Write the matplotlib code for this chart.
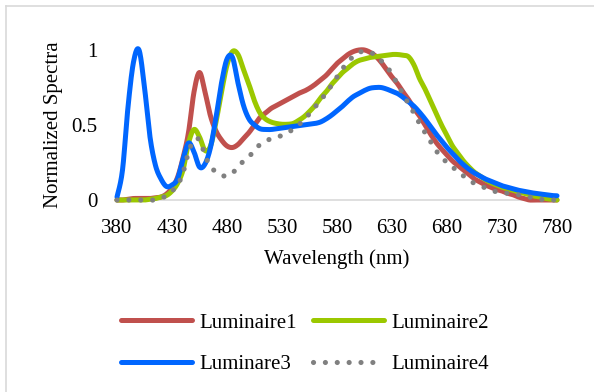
import matplotlib
matplotlib.use("Agg")
import matplotlib.pyplot as plt
from matplotlib.lines import Line2D
import numpy as np

wavelength = list(range(380, 781, 5))

luminaire1 = [0.0, 0.0, 0.005, 0.01, 0.01, 0.01, 0.01, 0.015, 0.02, 0.04,
              0.08, 0.15, 0.28, 0.45, 0.72, 0.85, 0.72, 0.56, 0.46, 0.40,
              0.36, 0.35, 0.37, 0.41, 0.45, 0.50, 0.55, 0.58, 0.61, 0.63,
              0.65, 0.67, 0.69, 0.71, 0.725, 0.745, 0.77, 0.80, 0.83, 0.87,
              0.91, 0.94, 0.97, 0.99, 1.0, 1.0, 0.985, 0.96, 0.92, 0.87,
              0.82, 0.775, 0.72, 0.67, 0.61, 0.56, 0.50, 0.44, 0.385, 0.34,
              0.30, 0.26, 0.23, 0.20, 0.17, 0.14, 0.12, 0.10, 0.085, 0.07,
              0.06, 0.045, 0.035, 0.02, 0.01, 0.0, 0.0, 0.0, 0.0, 0.0, 0.0]

luminaire2 = [0.0, 0.0, 0.0, 0.0, 0.0, 0.0, 0.005, 0.01, 0.02, 0.03,
              0.06, 0.11, 0.20, 0.38, 0.47, 0.42, 0.33, 0.36, 0.52, 0.72,
              0.90, 0.99, 0.97, 0.87, 0.77, 0.66, 0.58, 0.54, 0.52, 0.51,
              0.505, 0.505, 0.51, 0.53, 0.555, 0.59, 0.63, 0.68, 0.72, 0.77,
              0.81, 0.85, 0.88, 0.91, 0.93, 0.94, 0.95, 0.955, 0.96, 0.965,
              0.97, 0.97, 0.965, 0.955, 0.90, 0.81, 0.74, 0.66, 0.58, 0.50,
              0.43, 0.36, 0.31, 0.26, 0.22, 0.185, 0.16, 0.135, 0.115, 0.10,
              0.085, 0.075, 0.065, 0.055, 0.045, 0.035, 0.025, 0.02, 0.01, 0.005, 0.0]

luminare3 = [0.02, 0.20, 0.62, 0.92, 1.0, 0.75, 0.42, 0.23, 0.14, 0.09,
             0.10, 0.14, 0.27, 0.38, 0.32, 0.22, 0.24, 0.35, 0.55, 0.78,
             0.94, 0.95, 0.78, 0.63, 0.54, 0.50, 0.475, 0.47, 0.47, 0.475,
             0.48, 0.485, 0.49, 0.495, 0.50, 0.505, 0.51, 0.52, 0.54, 0.565,
             0.595, 0.625, 0.66, 0.69, 0.71, 0.73, 0.745, 0.75, 0.75, 0.74,
             0.725, 0.71, 0.685, 0.655, 0.625, 0.585, 0.54, 0.49, 0.44, 0.395,
             0.35, 0.31, 0.27, 0.235, 0.205, 0.18, 0.16, 0.14, 0.125, 0.11,
             0.095, 0.085, 0.075, 0.065, 0.058, 0.05, 0.045, 0.04, 0.035, 0.03, 0.028]

luminaire4 = [0.0, 0.0, 0.0, 0.0, 0.0, 0.0, 0.0, 0.0, 0.01, 0.03,
              0.06, 0.10, 0.18, 0.32, 0.40, 0.40, 0.30, 0.22, 0.19, 0.165,
              0.16, 0.18, 0.22, 0.26, 0.29, 0.33, 0.37, 0.39, 0.41, 0.42,
              0.43, 0.45, 0.47, 0.50, 0.535, 0.575, 0.62, 0.665, 0.71, 0.765,
              0.82, 0.875, 0.92, 0.96, 0.985, 0.99, 0.985, 0.965, 0.93, 0.89,
              0.84, 0.77, 0.71, 0.64, 0.58, 0.51, 0.45, 0.39, 0.33, 0.285,
              0.25, 0.22, 0.19, 0.16, 0.135, 0.11, 0.095, 0.08, 0.065, 0.055,
              0.05, 0.045, 0.04, 0.035, 0.03, 0.02, 0.01, 0.005, 0.0, 0.0, 0.0]

series_names = ["Luminaire1", "Luminaire2", "Luminare3", "Luminaire4"]
x_ticks = [380, 430, 480, 530, 580, 630, 680, 730, 780]
y_ticks = [0, 0.5, 1]
y_tick_labels = ["0", "0.5", "1"]


def smooth(xs, ys, n=12):
    """Excel-style smoothed line rendering (Catmull-Rom through the data)."""
    xs = np.asarray(xs, float)
    ys = np.asarray(ys, float)
    px = np.concatenate([[xs[0]], xs, [xs[-1]]])
    py = np.concatenate([[ys[0]], ys, [ys[-1]]])
    ox, oy = [], []
    t = np.linspace(0, 1, n, endpoint=False)
    for i in range(1, len(px) - 2):
        for arr, out in ((px, ox), (py, oy)):
            p0, p1, p2, p3 = arr[i - 1], arr[i], arr[i + 1], arr[i + 2]
            m1 = (p2 - p0) / 2
            m2 = (p3 - p1) / 2
            h00 = 2 * t**3 - 3 * t**2 + 1
            h10 = t**3 - 2 * t**2 + t
            h01 = -2 * t**3 + 3 * t**2
            h11 = t**3 - t**2
            out.extend(h00 * p1 + h10 * m1 + h01 * p2 + h11 * m2)
    ox.append(xs[-1])
    oy.append(ys[-1])
    return np.array(ox), np.array(oy)


plt.rcParams['font.family'] = ['Liberation Serif', 'DejaVu Serif']

fig = plt.figure(figsize=(5.94, 3.92), dpi=100)
W, H = 594, 392
ax = fig.add_axes([117 / W, 1 - 200 / H, (557 - 117) / W, 150 / H])

lw = 3.6
colors = ["#C0504D", "#9BC800", "#0066FF", "#808080"]
data = [luminaire1, luminaire2, luminare3, luminaire4]
handles = []
for i, (vals, name, c) in enumerate(zip(data, series_names, colors)):
    sx, sy = smooth(wavelength, vals)
    if i == 3:
        h, = ax.plot(sx, sy, color=c, lw=3.7, linestyle=(0, (0.01, 2.3)),
                     dash_capstyle='round', clip_on=False, label=name, zorder=3 + i)
    else:
        h, = ax.plot(sx, sy, color=c, lw=lw, solid_capstyle='round',
                     solid_joinstyle='round', clip_on=False, label=name, zorder=3 + i)
    handles.append(h)

ax.set_xlim(380, 780)
ax.set_ylim(0, 1)
ax.set_xticks(x_ticks)
ax.set_xticklabels([str(t) for t in x_ticks])
ax.set_yticks(y_ticks)
ax.set_yticklabels(y_tick_labels)
for s in ["left", "right", "top"]:
    ax.spines[s].set_visible(False)
ax.spines["bottom"].set_color("#D9D9D9")
ax.spines["bottom"].set_linewidth(1.2)
ax.spines["bottom"].set_zorder(1)
ax.tick_params(axis='both', length=0, labelsize=15, colors="black")
ax.tick_params(axis='x', pad=13.5)
ax.tick_params(axis='y', pad=14)
ax.set_xlabel("Wavelength (nm)", fontsize=15, labelpad=8)
ax.set_ylabel("Normalized Spectra", fontsize=15, labelpad=6)
ax.patch.set_alpha(0)

order = [0, 2, 1, 3]
fig.legend([handles[i] for i in order], [series_names[i] for i in order],
           ncol=2, loc='center', bbox_to_anchor=(305 / W, 1 - 343.5 / H),
           frameon=False, fontsize=15, handlelength=3.4, handletextpad=0.35,
           columnspacing=0.8, labelspacing=1.05, borderpad=0)

# chart area border (left and top edges visible)
fig.add_artist(Line2D([6 / W, 6 / W], [0, 1 - 6 / H], transform=fig.transFigure,
                      color="#D9D9D9", lw=1.2))
fig.add_artist(Line2D([6 / W, 1], [1 - 6 / H, 1 - 6 / H], transform=fig.transFigure,
                      color="#D9D9D9", lw=1.2))

fig.savefig("out.png", dpi=100)
